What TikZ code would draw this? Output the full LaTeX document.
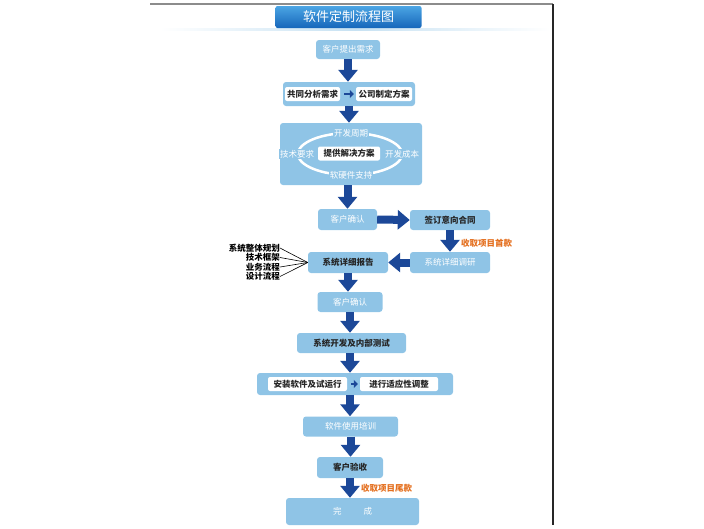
\documentclass[tikz,border=0pt]{standalone}
\usepackage{fontspec}
\setmainfont{Noto Sans CJK SC}
\usetikzlibrary{positioning, arrows.meta}

\definecolor{boxblue}{RGB}{143,196,230}
\definecolor{arrowblue}{RGB}{28,72,152}
\definecolor{payorange}{RGB}{228,112,32}
\definecolor{tabtop}{RGB}{75,165,228}
\definecolor{tabbot}{RGB}{22,102,186}

\newcommand{\boxfont}{\fontsize{8.5}{10}\selectfont}

\begin{document}
\begin{tikzpicture}[x=1pt, y=-1pt, font=\boxfont,
    box/.style={fill=boxblue, rounded corners=3pt, inner sep=0pt, text=white},
    darkbox/.style={box, text=black!85, font=\boxfont\bfseries},
    inbox/.style={fill=white, rounded corners=2pt, inner sep=0pt, minimum height=14pt,
        text=black!85, font=\boxfont\bfseries},
    ringlabel/.style={fill=boxblue, inner sep=1pt, text=white},
    bigarrow/.style={draw=arrowblue, line width=8pt, -{Triangle[length=12pt, width=19pt]}},
    smallarrow/.style={draw=arrowblue, line width=2.5pt, -{Triangle[length=4pt, width=8pt]},
        shorten <=4pt, shorten >=2pt},
    pay/.style={text=payorange, anchor=west, inner sep=0pt, font=\boxfont\bfseries},
    side/.style={text=black, anchor=east, inner sep=0pt, font=\boxfont\bfseries}]

    \useasboundingbox (0,0) rectangle (704,528);

    % Rámeček
    \draw[line width=2pt, black!45] (150,4) -- (553,4);
    \draw[line width=1.2pt, black!85] (553,4) -- (553,525);
    \shade[left color=white, right color=white, middle color=boxblue!50] (160,28.5) rectangle (550,30.5);

    % Nadpis
    \node[rounded corners=2pt, top color=tabtop, bottom color=tabbot, text=white,
        minimum width=146pt, minimum height=22pt, inner sep=0pt,
        font=\fontsize{13}{15}\selectfont] (title) at (348.5,17) {软件定制流程图};

    % Požadavek a analýza
    \node[box, minimum width=64pt, minimum height=19pt] (need) at (348,49.5) {客户提出需求};
    \node[box, minimum width=132pt, minimum height=24pt] (plan) at (349,94) {};
    \node[inbox, minimum width=55pt] (analyse) at (312.5,94) {共同分析需求};
    \node[inbox, minimum width=56pt] (scheme) at (384,94) {公司制定方案};
    \draw[smallarrow] (analyse) -- (scheme);

    % Řešení
    \node[box, minimum width=142pt, minimum height=62pt] (solve) at (351,154) {};
    \draw[white, line width=2.5pt] (350,154) ellipse [x radius=52pt, y radius=21pt];
    \node[ringlabel] (cycle) at (351,133) {开发周期};
    \node[ringlabel] (tech) at (297,154) {技术要求};
    \node[ringlabel] (cost) at (402,154) {开发成本};
    \node[ringlabel] (hard) at (351,175) {软硬件支持};
    \node[inbox, minimum width=62pt] (offer) at (349,153.5) {提供解决方案};

    % Smlouva a průzkum
    \node[box, minimum width=59pt, minimum height=21pt] (ok1) at (347.5,219.5) {客户确认};
    \node[darkbox, minimum width=80pt, minimum height=20pt] (contract) at (450,220) {签订意向合同};
    \node[box, minimum width=80pt, minimum height=21pt] (research) at (450,262.5) {系统详细调研};
    \node[darkbox, minimum width=80pt, minimum height=21pt] (report) at (348,262.5) {系统详细报告};
    \node[pay] (fee1) at (461,243) {收取项目首款};

    \node[side] (s1) at (280,248) {系统整体规划};
    \node[side] (s2) at (280,257.5) {技术框架};
    \node[side] (s3) at (280,267) {业务流程};
    \node[side] (s4) at (280,276.5) {设计流程};
    \foreach \s in {s1,s2,s3,s4}
        \draw[semithick] (\s.east) -- (report.west);

    % Vývoj a předání
    \node[box, minimum width=65pt, minimum height=20pt] (ok2) at (350,302) {客户确认};
    \node[darkbox, minimum width=109pt, minimum height=20pt] (dev) at (351.5,343) {系统开发及内部测试};
    \node[box, minimum width=196pt, minimum height=22pt] (install) at (355,384) {};
    \node[inbox, minimum width=79pt] (setup) at (307.5,384) {安装软件及试运行};
    \node[inbox, minimum width=78pt] (adjust) at (399,384) {进行适应性调整};
    \draw[smallarrow] (setup) -- (adjust);
    \node[box, minimum width=95pt, minimum height=20pt] (train) at (350.5,426.5) {软件使用培训};
    \node[darkbox, minimum width=66pt, minimum height=21pt] (accept) at (350,467.5) {客户验收};
    \node[box, minimum width=133pt, minimum height=27pt] (done) at (352.5,511.5) {完\hspace{22pt}成};
    \node[pay] (fee2) at (361,488) {收取项目尾款};

    % Šipky
    \draw[bigarrow] (need.south) -- (need.south |- plan.north);
    \draw[bigarrow] (plan.south) -- (plan.south |- solve.north);
    \draw[bigarrow] (ok1.north |- solve.south) -- (ok1.north);
    \draw[bigarrow] (ok1.east) -- (contract.west);
    \draw[bigarrow] (contract.south) -- (research.north);
    \draw[bigarrow] (research.west) -- (report.east);
    \draw[bigarrow] (report.south) -- (report.south |- ok2.north);
    \draw[bigarrow] (ok2.south) -- (ok2.south |- dev.north);
    \draw[bigarrow] (ok2.south |- dev.south) -- (ok2.south |- install.north);
    \draw[bigarrow] (ok2.south |- install.south) -- (ok2.south |- train.north);
    \draw[bigarrow] (train.south) -- (train.south |- accept.north);
    \draw[bigarrow] (accept.south) -- (accept.south |- done.north);

\end{tikzpicture}
\end{document}
